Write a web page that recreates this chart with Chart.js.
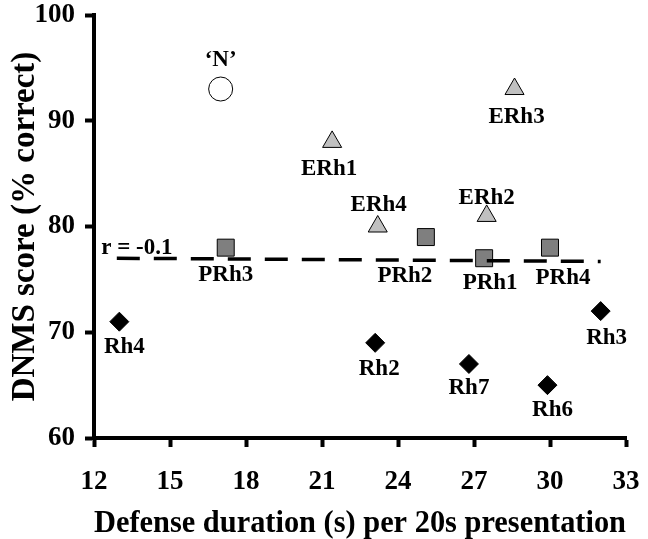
<!DOCTYPE html>
<html>
<head>
<meta charset="utf-8">
<script src="https://cdn.jsdelivr.net/npm/chart.js@4.4.1/dist/chart.umd.min.js"></script>
<style>
  body { margin: 0; background: #fff; }
  #chart { display: block; }
</style>
</head>
<body>
<canvas id="chart" width="648" height="539"></canvas>
<script>
// data
var normalLabels = ["\u2018N\u2019"];
var normalX = [17.0];
var normalY = [93];

var erhLabels = ["ERh1", "ERh2", "ERh3", "ERh4"];
var erhX = [21.4, 27.5, 28.6, 23.2];
var erhY = [88, 81, 93, 80];

var prhLabels = ["PRh1", "PRh2", "PRh3", "PRh4"];
var prhX = [27.4, 25.1, 17.2, 30.0];
var prhY = [77, 79, 78, 78];

var rhLabels = ["Rh2", "Rh3", "Rh4", "Rh6", "Rh7"];
var rhX = [23.1, 32.0, 13.0, 29.9, 26.8];
var rhY = [69, 72, 71, 65, 67];

// regression line end points
var fitX = [12.9, 32.0];
var fitY = [77.0, 76.7];
var fitText = "r = -0.1";

var xTicks = [12, 15, 18, 21, 24, 27, 30, 33];
var yTicks = [60, 70, 80, 90, 100];

// label offsets in pixels (layout only)
var labelOffsets = {
	"\u2018N\u2019": [0, -29],
	"ERh1": [-3, 27], "ERh2": [0, -18], "ERh3": [2, 28], "ERh4": [1, -21],
	"PRh1": [6, 25], "PRh2": [-21, 39], "PRh3": [0, 27], "PRh4": [13, 30],
	"Rh2": [4, 26], "Rh3": [6, 27], "Rh4": [5, 25], "Rh6": [5, 25], "Rh7": [0, 24]
};

var serif = "'Liberation Serif', 'Times New Roman', serif";

function pts(xs, ys) {
	return xs.map(function(x, i) { return {x: x, y: ys[i]}; });
}

var pointLabels = {
	id: 'pointLabels',
	afterDatasetsDraw: function(chart) {
		var ctx = chart.ctx;
		ctx.save();
		ctx.font = "bold 23px " + serif;
		ctx.fillStyle = "#000";
		ctx.textAlign = "center";
		ctx.textBaseline = "middle";
		chart.data.datasets.forEach(function(ds, di) {
			if (!ds.names) return;
			var meta = chart.getDatasetMeta(di);
			meta.data.forEach(function(el, i) {
				var name = ds.names[i];
				var off = labelOffsets[name] || [0, 25];
				ctx.fillText(name, el.x + off[0], el.y + off[1]);
			});
		});
		var xs = chart.scales.x, ys = chart.scales.y;
		ctx.fillText(fitText, xs.getPixelForValue(fitX[0]) + 20, ys.getPixelForValue(fitY[0]) - 10);
		ctx.restore();
	}
};

var ctx = document.getElementById('chart').getContext('2d');
var chart = new Chart(ctx, {
	type: 'scatter',
	data: {
		datasets: [{
			type: 'line',
			data: pts(fitX, fitY),
			borderColor: '#000',
			borderWidth: 3.5,
			borderDash: [23, 14],
			pointRadius: 0,
			fill: false,
			order: 0
		}, {
			names: normalLabels,
			data: pts(normalX, normalY),
			pointStyle: 'circle',
			pointRadius: 12,
			backgroundColor: '#fff',
			borderColor: '#000',
			borderWidth: 1,
			order: 1
		}, {
			names: erhLabels,
			data: pts(erhX, erhY),
			pointStyle: 'triangle',
			pointRadius: 11,
			backgroundColor: '#c0c0c0',
			borderColor: '#000',
			borderWidth: 1,
			order: 1
		}, {
			names: prhLabels,
			data: pts(prhX, prhY),
			pointStyle: 'rect',
			pointRadius: 12,
			backgroundColor: '#7f7f7f',
			borderColor: '#000',
			borderWidth: 1,
			order: 2
		}, {
			names: rhLabels,
			data: pts(rhX, rhY),
			pointStyle: 'rectRot',
			pointRadius: 9.5,
			backgroundColor: '#000',
			borderColor: '#000',
			borderWidth: 1,
			order: 1
		}]
	},
	options: {
		responsive: false,
		animation: false,
		layout: { padding: { top: 15, right: 22, left: 0, bottom: 0 } },
		plugins: {
			legend: { display: false },
			tooltip: { enabled: false }
		},
		scales: {
			x: {
				type: 'linear',
				min: 12,
				max: 33,
				afterBuildTicks: function(s) { s.ticks = xTicks.map(function(v) { return {value: v}; }); },
				afterFit: function(s) { s.height = 101; s.paddingLeft = 0; s.paddingRight = 0; },
				grid: { drawOnChartArea: false, drawTicks: true, tickLength: 9, tickWidth: 4, color: '#000' },
				border: { display: true, width: 4, color: '#000' },
				ticks: { color: '#000', padding: 19, maxRotation: 0, font: { family: serif, size: 27, weight: 'bold' } },
				title: { display: true, text: 'Defense duration (s) per 20s presentation', color: '#000',
					padding: { top: 0, bottom: 0 }, font: { family: serif, size: 30.5, weight: 'bold', lineHeight: 1 } }
			},
			y: {
				type: 'linear',
				min: 60,
				max: 100,
				afterBuildTicks: function(s) { s.ticks = yTicks.map(function(v) { return {value: v}; }); },
				afterFit: function(s) { s.width = 94; s.paddingTop = 0; s.paddingBottom = 0; },
				grid: { drawOnChartArea: false, drawTicks: true, tickLength: 9, tickWidth: 4, color: '#000' },
				border: { display: true, width: 4, color: '#000' },
				ticks: { color: '#000', padding: 10, font: { family: serif, size: 27, weight: 'bold' } },
				title: { display: true, text: 'DNMS score (% correct)', color: '#000',
					padding: { top: 9, bottom: 0 }, font: { family: serif, size: 33, weight: 'bold', lineHeight: 1 } }
			}
		}
	},
	plugins: [pointLabels]
});
</script>
</body>
</html>
